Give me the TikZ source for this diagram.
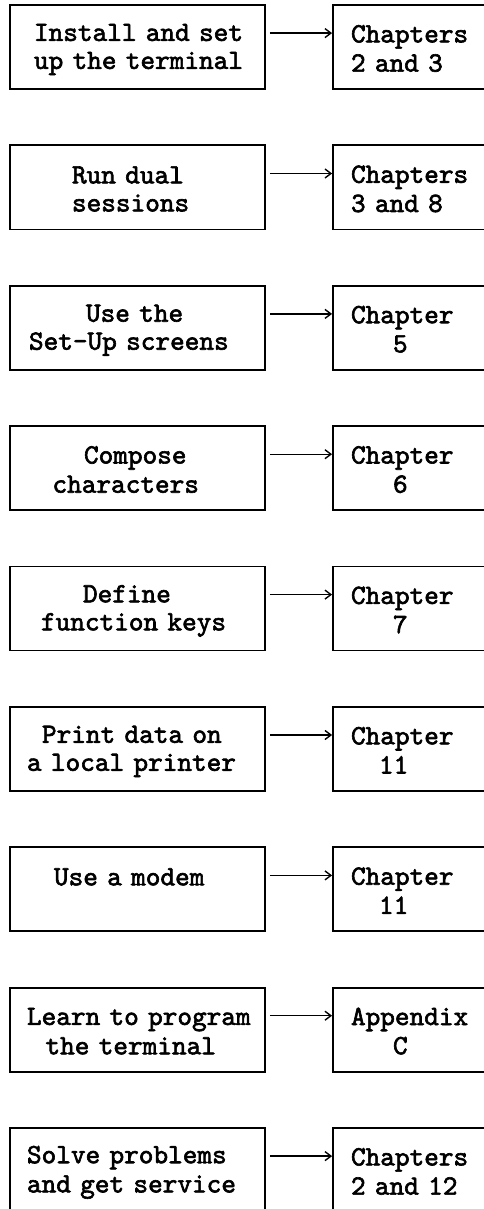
\documentclass[tikz,border=0pt]{standalone}
\usepackage{fontspec}
\usetikzlibrary{arrows.meta}
\newfontfamily\typewr{lmmono10-regular.otf}[FakeBold=2.2]
\newcommand{\ind}[1]{\hspace*{#1pt}}
\newcommand{\rowstrut}{\rule[-2pt]{0pt}{24pt}}
\begin{document}
\begin{tikzpicture}[x=1pt,y=1pt,
  task/.style={draw,line width=1.8pt,minimum width=255pt,minimum height=84pt,inner sep=0pt,
    text width=230pt,align=left,font=\typewr\fontsize{27.9pt}{28pt}\selectfont},
  where/.style={task,minimum width=154pt,text width=120pt},
  link/.style={-{Straight Barb[length=6pt,width=9pt]},line width=1.4pt}]
\useasboundingbox (0,0) rectangle (484,-1209);

\node[task] at (137.5,-47) (l1) {\rowstrut\ind{11.5}Install and set\\\rowstrut\ind{11.5}up the terminal};
\node[task] at (137.5,-187.4) (l2) {\rowstrut\ind{49.5}Run dual\\\rowstrut\ind{49.5}sessions};
\node[task] at (137.5,-327.8) (l3) {\rowstrut\ind{63.5}Use the\\\rowstrut\ind{6.5}Set-Up screens};
\node[task] at (137.5,-468.1) (l4) {\rowstrut\ind{61.5}Compose\\\rowstrut\ind{30}characters};
\node[task] at (137.5,-608.5) (l5) {\rowstrut\ind{60.5}Define\\\rowstrut\ind{18.5}function keys};
\node[task] at (137.5,-748.9) (l6) {\rowstrut\ind{19.5}Print data on\\\rowstrut\ind{4.5}a local printer};
\node[task] at (137.5,-889.3) (l7) {\rowstrut\ind{31.5}Use a modem\\\rowstrut};
\node[task] at (137.5,-1029.6) (l8) {\rowstrut\ind{4.5}Learn to program\\\rowstrut\ind{23}the terminal};
\node[task] at (137.5,-1170) (l9) {\rowstrut\ind{4.5}Solve problems\\\rowstrut\ind{4.5}and get service};

\node[where] at (410,-47) (r1) {\rowstrut\ind{1}Chapters\\\rowstrut\ind{1}2 and 3};
\node[where] at (410,-187.4) (r2) {\rowstrut\ind{1}Chapters\\\rowstrut\ind{1}3 and 8};
\node[where] at (410,-327.8) (r3) {\rowstrut\ind{1}Chapter\\\rowstrut\ind{43}5};
\node[where] at (410,-468.1) (r4) {\rowstrut\ind{1}Chapter\\\rowstrut\ind{43}6};
\node[where] at (410,-608.5) (r5) {\rowstrut\ind{1}Chapter\\\rowstrut\ind{43}7};
\node[where] at (410,-748.9) (r6) {\rowstrut\ind{1}Chapter\\\rowstrut\ind{29}11};
\node[where] at (410,-889.3) (r7) {\rowstrut\ind{1}Chapter\\\rowstrut\ind{29}11};
\node[where] at (410,-1029.6) (r8) {\rowstrut\ind{1}Appendix\\\rowstrut\ind{43}C};
\node[where] at (410,-1170) (r9) {\rowstrut\ind{1}Chapters\\\rowstrut\ind{1}2 and 12};

\foreach \i in {1,...,9}
{
     \draw[link] ([shift={(4,-29)}]l\i.north east) coordinate (s\i) -- (s\i -| r\i.west);
}
\end{tikzpicture}
\end{document}
